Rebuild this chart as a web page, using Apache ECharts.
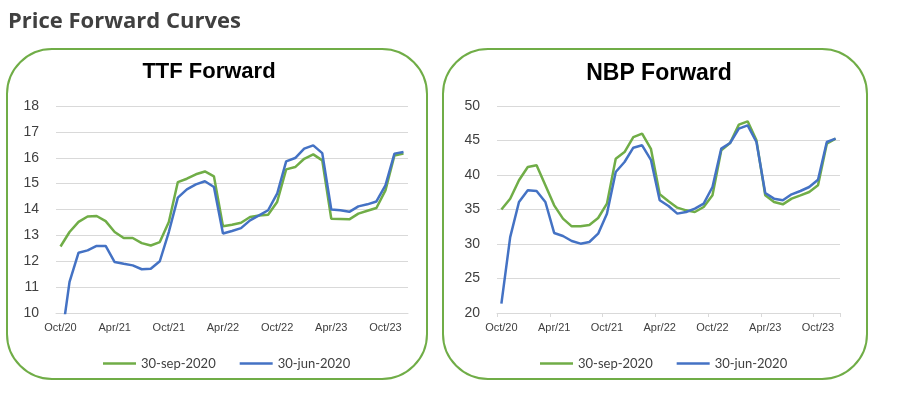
<!DOCTYPE html>
<html>
<head>
<meta charset="utf-8">
<script src="https://cdn.jsdelivr.net/npm/echarts@6/dist/echarts.min.js"></script>
<style>
  html, body { margin: 0; padding: 0; background: #fff; }
  #chart { width: 900px; height: 399px; }
</style>
</head>
<body>
<div id="chart"></div>
<script>
var months = ['Oct/20', 'Nov/20', 'Dec/20',
  'Jan/21', 'Feb/21', 'Mar/21', 'Apr/21', 'May/21', 'Jun/21', 'Jul/21', 'Aug/21', 'Sep/21', 'Oct/21', 'Nov/21', 'Dec/21',
  'Jan/22', 'Feb/22', 'Mar/22', 'Apr/22', 'May/22', 'Jun/22', 'Jul/22', 'Aug/22', 'Sep/22', 'Oct/22', 'Nov/22', 'Dec/22',
  'Jan/23', 'Feb/23', 'Mar/23', 'Apr/23', 'May/23', 'Jun/23', 'Jul/23', 'Aug/23', 'Sep/23', 'Oct/23', 'Nov/23', 'Dec/23']

var seriesNames = ['30-sep-2020', '30-jun-2020']

// TTF forward
var ttfSep = [12.57, 13.13, 13.52, 13.73, 13.75, 13.55, 13.13, 12.9, 12.9, 12.7, 12.61, 12.74, 13.52, 15.06, 15.19,
  15.36, 15.47, 15.28, 13.35, 13.41, 13.49, 13.71, 13.77, 13.8, 14.29, 15.55, 15.64,
  15.96, 16.13, 15.9, 13.64, 13.63, 13.62, 13.84, 13.95, 14.06, 14.74, 16.09, 16.16]
var ttfJun = [8.7, 11.2, 12.33, 12.42, 12.59, 12.59, 11.97, 11.9, 11.84, 11.69, 11.71, 12.0, 13.13, 14.46, 14.78,
  14.97, 15.09, 14.87, 13.07, 13.17, 13.28, 13.58, 13.77, 13.97, 14.61, 15.86, 15.99,
  16.35, 16.48, 16.18, 14.0, 13.97, 13.91, 14.12, 14.2, 14.31, 14.93, 16.16, 16.22]

// NBP forward
var nbpSep = [35.0, 36.57, 39.23, 41.16, 41.4, 38.5, 35.6, 33.67, 32.56, 32.56, 32.75, 33.77, 35.85, 42.37, 43.33,
  45.5, 45.99, 43.8, 37.2, 36.2, 35.27, 34.88, 34.64, 35.36, 37.05, 43.57, 44.64,
  47.3, 47.78, 45.02, 37.05, 36.09, 35.75, 36.57, 37.05, 37.54, 38.5, 44.54, 45.27]
var nbpJun = [21.35, 31.0, 36.09, 37.78, 37.68, 36.09, 31.6, 31.16, 30.43, 30.05, 30.29, 31.5, 34.4, 40.43, 41.88,
  43.96, 44.3, 42.2, 36.33, 35.5, 34.4, 34.64, 35.12, 35.85, 38.26, 43.82, 44.64,
  46.71, 47.2, 44.78, 37.39, 36.57, 36.33, 37.2, 37.68, 38.26, 39.32, 44.78, 45.27]

var green = '#70ad47'
var blue = '#4472c4'
var txt = '#404040'
var gridLine = '#d9d9d9'

var myChart = echarts.init(document.getElementById('chart'))

function xAxisFor(idx, ticks) {
  return {
    gridIndex: idx,
    type: 'category',
    data: months,
    boundaryGap: true,
    axisLine: { lineStyle: { color: gridLine, width: 1 } },
    axisTick: { show: ticks, interval: 5, length: 4, lineStyle: { color: gridLine } },
    axisLabel: {
      interval: 5,
      margin: 9,
      color: txt,
      fontSize: 11,
      fontFamily: 'Arial, "Liberation Sans", sans-serif'
    }
  }
}

function yAxisFor(idx, min, max, step) {
  return {
    gridIndex: idx,
    type: 'value',
    min: min,
    max: max,
    interval: step,
    axisLine: { show: false },
    axisTick: { show: false },
    splitLine: { lineStyle: { color: gridLine, width: 1 } },
    axisLabel: {
      margin: 17,
      color: txt,
      fontSize: 14,
      fontFamily: 'Arial, "Liberation Sans", sans-serif'
    }
  }
}

function lineSeries(name, idx, data, color) {
  return {
    name: name,
    type: 'line',
    xAxisIndex: idx,
    yAxisIndex: idx,
    data: data,
    symbol: 'none',
    clip: true,
    lineStyle: { color: color, width: 2.5 },
    itemStyle: { color: color },
    animation: false
  }
}

var legendText = {
  color: txt,
  fontSize: 13,
  fontFamily: 'Lato, sans-serif'
}

var option = {
  animation: false,
  title: [
    {
      text: 'Price Forward Curves',
      left: 3,
      top: 6,
      textStyle: { color: txt, fontSize: 22, fontWeight: 'bold', fontFamily: '"Open Sans", sans-serif' }
    },
    {
      text: 'TTF Forward',
      left: 204,
      top: 56,
      textAlign: 'center',
      textStyle: { color: '#000', fontSize: 22, fontWeight: 'bold', fontFamily: 'Arial, "Liberation Sans", sans-serif' }
    },
    {
      text: 'NBP Forward',
      left: 654,
      top: 57,
      textAlign: 'center',
      textStyle: { color: '#000', fontSize: 23, fontWeight: 'bold', fontFamily: 'Arial, "Liberation Sans", sans-serif' }
    }
  ],
  graphic: [
    {
      type: 'rect',
      shape: { x: 7, y: 49, width: 420, height: 330, r: 45 },
      style: { fill: 'none', stroke: green, lineWidth: 2 },
      z: -1
    },
    {
      type: 'rect',
      shape: { x: 443, y: 49, width: 424, height: 330, r: 45 },
      style: { fill: 'none', stroke: green, lineWidth: 2 },
      z: -1
    }
  ],
  legend: [
    {
      left: 98,
      top: 352,
      data: seriesNames,
      icon: 'rect',
      itemWidth: 33,
      itemHeight: 2.5,
      itemGap: 24,
      textStyle: legendText
    },
    {
      left: 535,
      top: 352,
      data: seriesNames,
      icon: 'rect',
      itemWidth: 33,
      itemHeight: 2.5,
      itemGap: 24,
      textStyle: legendText
    }
  ],
  grid: [
    { left: 56, top: 106, width: 352, height: 207 },
    { left: 497, top: 106, width: 343, height: 207 }
  ],
  xAxis: [xAxisFor(0, false), xAxisFor(1, true)],
  yAxis: [yAxisFor(0, 10, 18, 1), yAxisFor(1, 20, 50, 5)],
  series: [
    lineSeries(seriesNames[0], 0, ttfSep, green),
    lineSeries(seriesNames[1], 0, ttfJun, blue),
    lineSeries(seriesNames[0], 1, nbpSep, green),
    lineSeries(seriesNames[1], 1, nbpJun, blue)
  ]
}

myChart.setOption(option)
</script>
</body>
</html>
